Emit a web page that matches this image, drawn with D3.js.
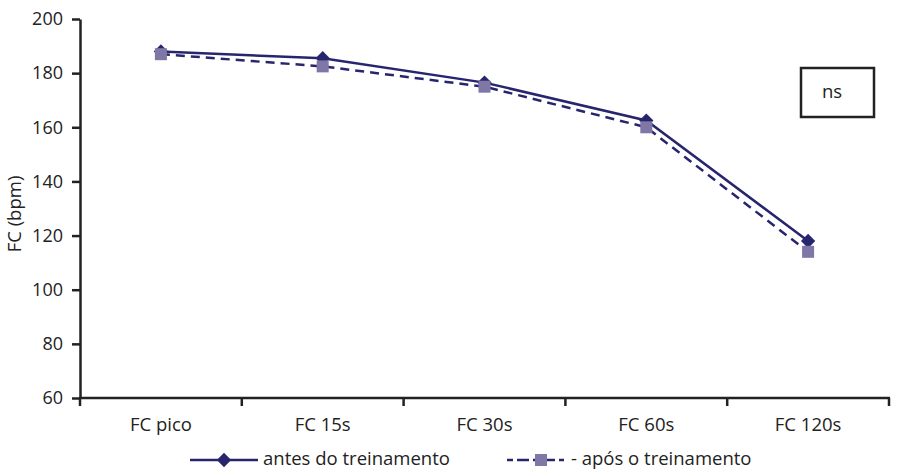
<!DOCTYPE html>
<html>
<head>
<meta charset="utf-8">
<script src="https://cdn.jsdelivr.net/npm/d3@7"></script>
<style>
  body { margin: 0; background: #fff; }
  svg text { font-family: "Open Sans", "DejaVu Sans", sans-serif; fill: #222; }
</style>
</head>
<body>
<div id="chart"></div>
<script>
"use strict";

// data
var categories = ["FC pico", "FC 15s", "FC 30s", "FC 60s", "FC 120s"];
var antes = [188, 185.5, 176.5, 162.5, 118];
var apos = [187, 182.5, 175, 160, 114];
var yTicks = [60, 80, 100, 120, 140, 160, 180, 200];
var seriesNames = ["antes do treinamento", "- após o treinamento"];

var NAVY = "#27256e";
var SQUARE_FILL = "#7f77a6";
var AXIS = "#222";

var width = 904, height = 471;
var plotLeft = 80, plotRight = 889, plotTop = 19, plotBottom = 398;

var svg = d3.select("#chart").append("svg")
    .attr("width", width)
    .attr("height", height);

var x = d3.scaleBand().domain(categories).range([plotLeft, plotRight]);
var y = d3.scaleLinear().domain([60, 200]).range([plotBottom, plotTop]);

// y axis
var yAxis = d3.axisLeft(y).tickValues(yTicks).tickSize(8).tickPadding(9).tickSizeOuter(0);
var gy = svg.append("g").attr("transform", "translate(" + plotLeft + ",0)").call(yAxis);
gy.attr("font-family", null);
gy.select(".domain").attr("stroke", AXIS).attr("stroke-width", 2.5);
gy.selectAll(".tick line").attr("stroke", AXIS).attr("stroke-width", 2.5);
gy.selectAll(".tick text").attr("font-size", 18).attr("fill", "#222");

// x axis: ticks at band edges
var edges = categories.map(function(c) { return x(c); }).concat([plotRight]);
svg.append("line")
    .attr("x1", plotLeft - 1).attr("x2", plotRight + 1)
    .attr("y1", plotBottom).attr("y2", plotBottom)
    .attr("stroke", AXIS).attr("stroke-width", 2.5);
svg.selectAll(".xtick").data(edges).enter().append("line")
    .attr("class", "xtick")
    .attr("x1", function(d) { return d; }).attr("x2", function(d) { return d; })
    .attr("y1", plotBottom).attr("y2", plotBottom + 8)
    .attr("stroke", AXIS).attr("stroke-width", 2.5);
svg.selectAll(".xlabel").data(categories).enter().append("text")
    .attr("class", "xlabel")
    .attr("x", function(d) { return x(d) + x.bandwidth() / 2; })
    .attr("y", plotBottom + 33)
    .attr("text-anchor", "middle")
    .attr("font-size", 18.5)
    .text(function(d) { return d; });

// y axis title
svg.append("text")
    .attr("transform", "translate(21,214) rotate(-90)")
    .attr("text-anchor", "middle")
    .attr("font-size", 18.5)
    .text("FC (bpm)");

var cx = function(d, i) { return x(categories[i]) + x.bandwidth() / 2; };
var line = d3.line().x(cx).y(function(d) { return y(d); });

// após (dashed, drawn first)
svg.append("path").datum(apos)
    .attr("d", line)
    .attr("fill", "none")
    .attr("stroke", NAVY)
    .attr("stroke-width", 2.5)
    .attr("stroke-dasharray", "9,6");

// antes (solid)
svg.append("path").datum(antes)
    .attr("d", line)
    .attr("fill", "none")
    .attr("stroke", NAVY)
    .attr("stroke-width", 2.5);

var diamond = d3.symbol().type(d3.symbolDiamond2).size(130);

svg.selectAll(".dia").data(antes).enter().append("path")
    .attr("class", "dia")
    .attr("d", diamond)
    .attr("transform", function(d, i) { return "translate(" + cx(d, i) + "," + y(d) + ")"; })
    .attr("fill", NAVY);

svg.selectAll(".sq").data(apos).enter().append("rect")
    .attr("class", "sq")
    .attr("x", function(d, i) { return cx(d, i) - 6; })
    .attr("y", function(d) { return y(d) - 6; })
    .attr("width", 12).attr("height", 12)
    .attr("fill", SQUARE_FILL);

// ns box
svg.append("rect")
    .attr("x", 801).attr("y", 68).attr("width", 73).attr("height", 49)
    .attr("fill", "#fff").attr("stroke", AXIS).attr("stroke-width", 2.5);
svg.append("text")
    .attr("x", 832).attr("y", 98)
    .attr("text-anchor", "middle")
    .attr("font-size", 18.5)
    .text("ns");

// legend
var ly = 460;
svg.append("line").attr("x1", 190).attr("x2", 258).attr("y1", ly).attr("y2", ly)
    .attr("stroke", NAVY).attr("stroke-width", 2.5);
svg.append("path").attr("d", diamond)
    .attr("transform", "translate(224," + ly + ")").attr("fill", NAVY);
svg.append("text").attr("x", 263).attr("y", ly + 5).attr("font-size", 18.5).text(seriesNames[0]);

svg.append("line").attr("x1", 507).attr("x2", 564).attr("y1", ly).attr("y2", ly)
    .attr("stroke", NAVY).attr("stroke-width", 2.5).attr("stroke-dasharray", "6,4,12,4");
svg.append("rect").attr("x", 535).attr("y", ly - 6).attr("width", 12).attr("height", 12)
    .attr("fill", SQUARE_FILL);
svg.append("text").attr("x", 571).attr("y", ly + 5).attr("font-size", 18.5).text(seriesNames[1]);
</script>
</body>
</html>
